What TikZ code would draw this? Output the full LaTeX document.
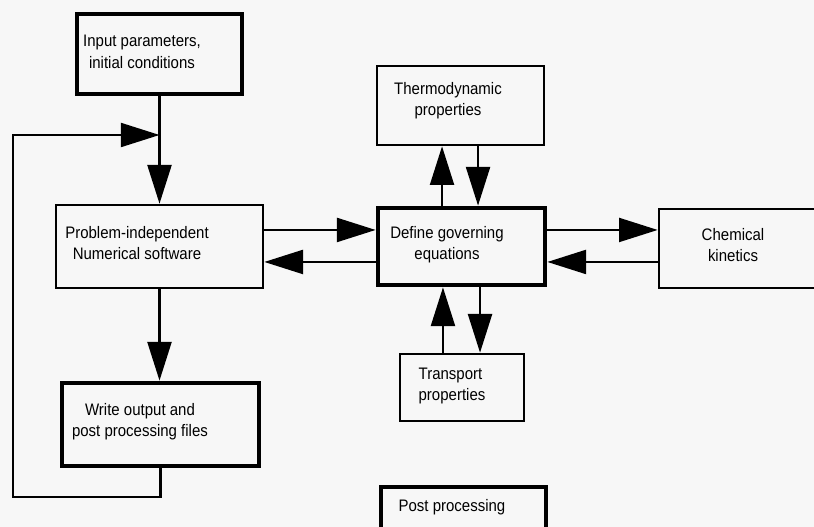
\documentclass[tikz,border=0pt]{standalone}
\usepackage{fontspec}
\setmainfont{Liberation Sans}[FakeStretch=0.9]
\usetikzlibrary{arrows.meta}
\definecolor{bgc}{HTML}{F7F7F7}
\begin{document}
\begin{tikzpicture}[x=0.75pt,y=-0.75pt,
 box/.style={draw, line width=2pt, inner sep=0pt},
 tbox/.style={draw, line width=3.6pt, inner sep=0pt},
 lbl/.style={align=center, font=\fontsize{12.5pt}{16pt}\selectfont, inner sep=0pt},
 arr/.style={line width=1.6pt, -{Triangle[length=29pt,width=18pt]}},
 ln/.style={line width=1.6pt}]
\useasboundingbox (0,0) rectangle (814,527);
\fill[bgc] (0,0) rectangle (814,527);
\clip (0,0) rectangle (814,527);
% boxes
\node[tbox, minimum width=123.75pt, minimum height=60pt] (inp) at (159.5,54) {};
\node[box, minimum width=155.25pt, minimum height=62.25pt] (prob) at (159.5,246.5) {};
\node[tbox, minimum width=147.75pt, minimum height=62.25pt] (write) at (160.5,424.5) {};
\node[tbox, minimum width=125.25pt, minimum height=57.75pt] (def) at (461.5,246.5) {};
\node[box, minimum width=125.25pt, minimum height=59.25pt] (thermo) at (460.5,105.5) {};
\node[box, minimum width=180.75pt, minimum height=59.25pt] (chem) at (779.5,248.5) {};
\node[box, minimum width=93pt, minimum height=50.25pt] (trans) at (462,387.5) {};
\node[tbox, minimum width=123.75pt, minimum height=54.75pt] (post) at (463.5,523.5) {};
% labels
\node[lbl] (inpt) at (142,52) {Input parameters,\\initial conditions};
\node[lbl] (probt) at (137,243) {Problem-independent\\Numerical software};
\node[lbl] (writet) at (140,422) {Write output and\\post processing files};
\node[lbl] (deft) at (447,245) {Define governing\\equations};
\node[lbl] (thermot) at (448,101) {Thermodynamic\\properties};
\node[lbl] (chemt) at (733,245) {Chemical\\kinetics};
\node[lbl, align=left] (transt) at (452,386) {Transport\\properties};
\node[lbl] (postt) at (452,507) {Post processing};
% connectors
\coordinate (lbot) at (13,497);
\coordinate (ltop) at (13,135);
\draw[arr] (inp.south) -- (inp.south |- prob.north);
\draw[arr] (prob.south) -- (prob.south |- write.north);
\draw[arr] (write.south) |- (lbot) |- (inp.south |- ltop);
\draw[arr] ([yshift=12.4pt]prob.east) -- ([yshift=12.4pt]def.west);
\draw[arr] ([yshift=-11.6pt]def.west) -- ([yshift=-11.6pt]prob.east);
\draw[arr] ([yshift=12.4pt]def.east) -- ([yshift=12.4pt]def.east -| chem.west);
\draw[arr] ([yshift=-11.6pt]def.east -| chem.west) -- ([yshift=-11.6pt]def.east);
\draw[arr] ([xshift=-14.6pt]def.north) -- ([xshift=-14.6pt]def.north |- thermo.south);
\draw[arr] ([xshift=12.4pt]def.north |- thermo.south) -- ([xshift=12.4pt]def.north);
\draw[arr] ([xshift=-13.9pt]def.south |- trans.north) -- ([xshift=-13.9pt]def.south);
\draw[arr] ([xshift=13.9pt]def.south) -- ([xshift=13.9pt]def.south |- trans.north);
\end{tikzpicture}
\end{document}
